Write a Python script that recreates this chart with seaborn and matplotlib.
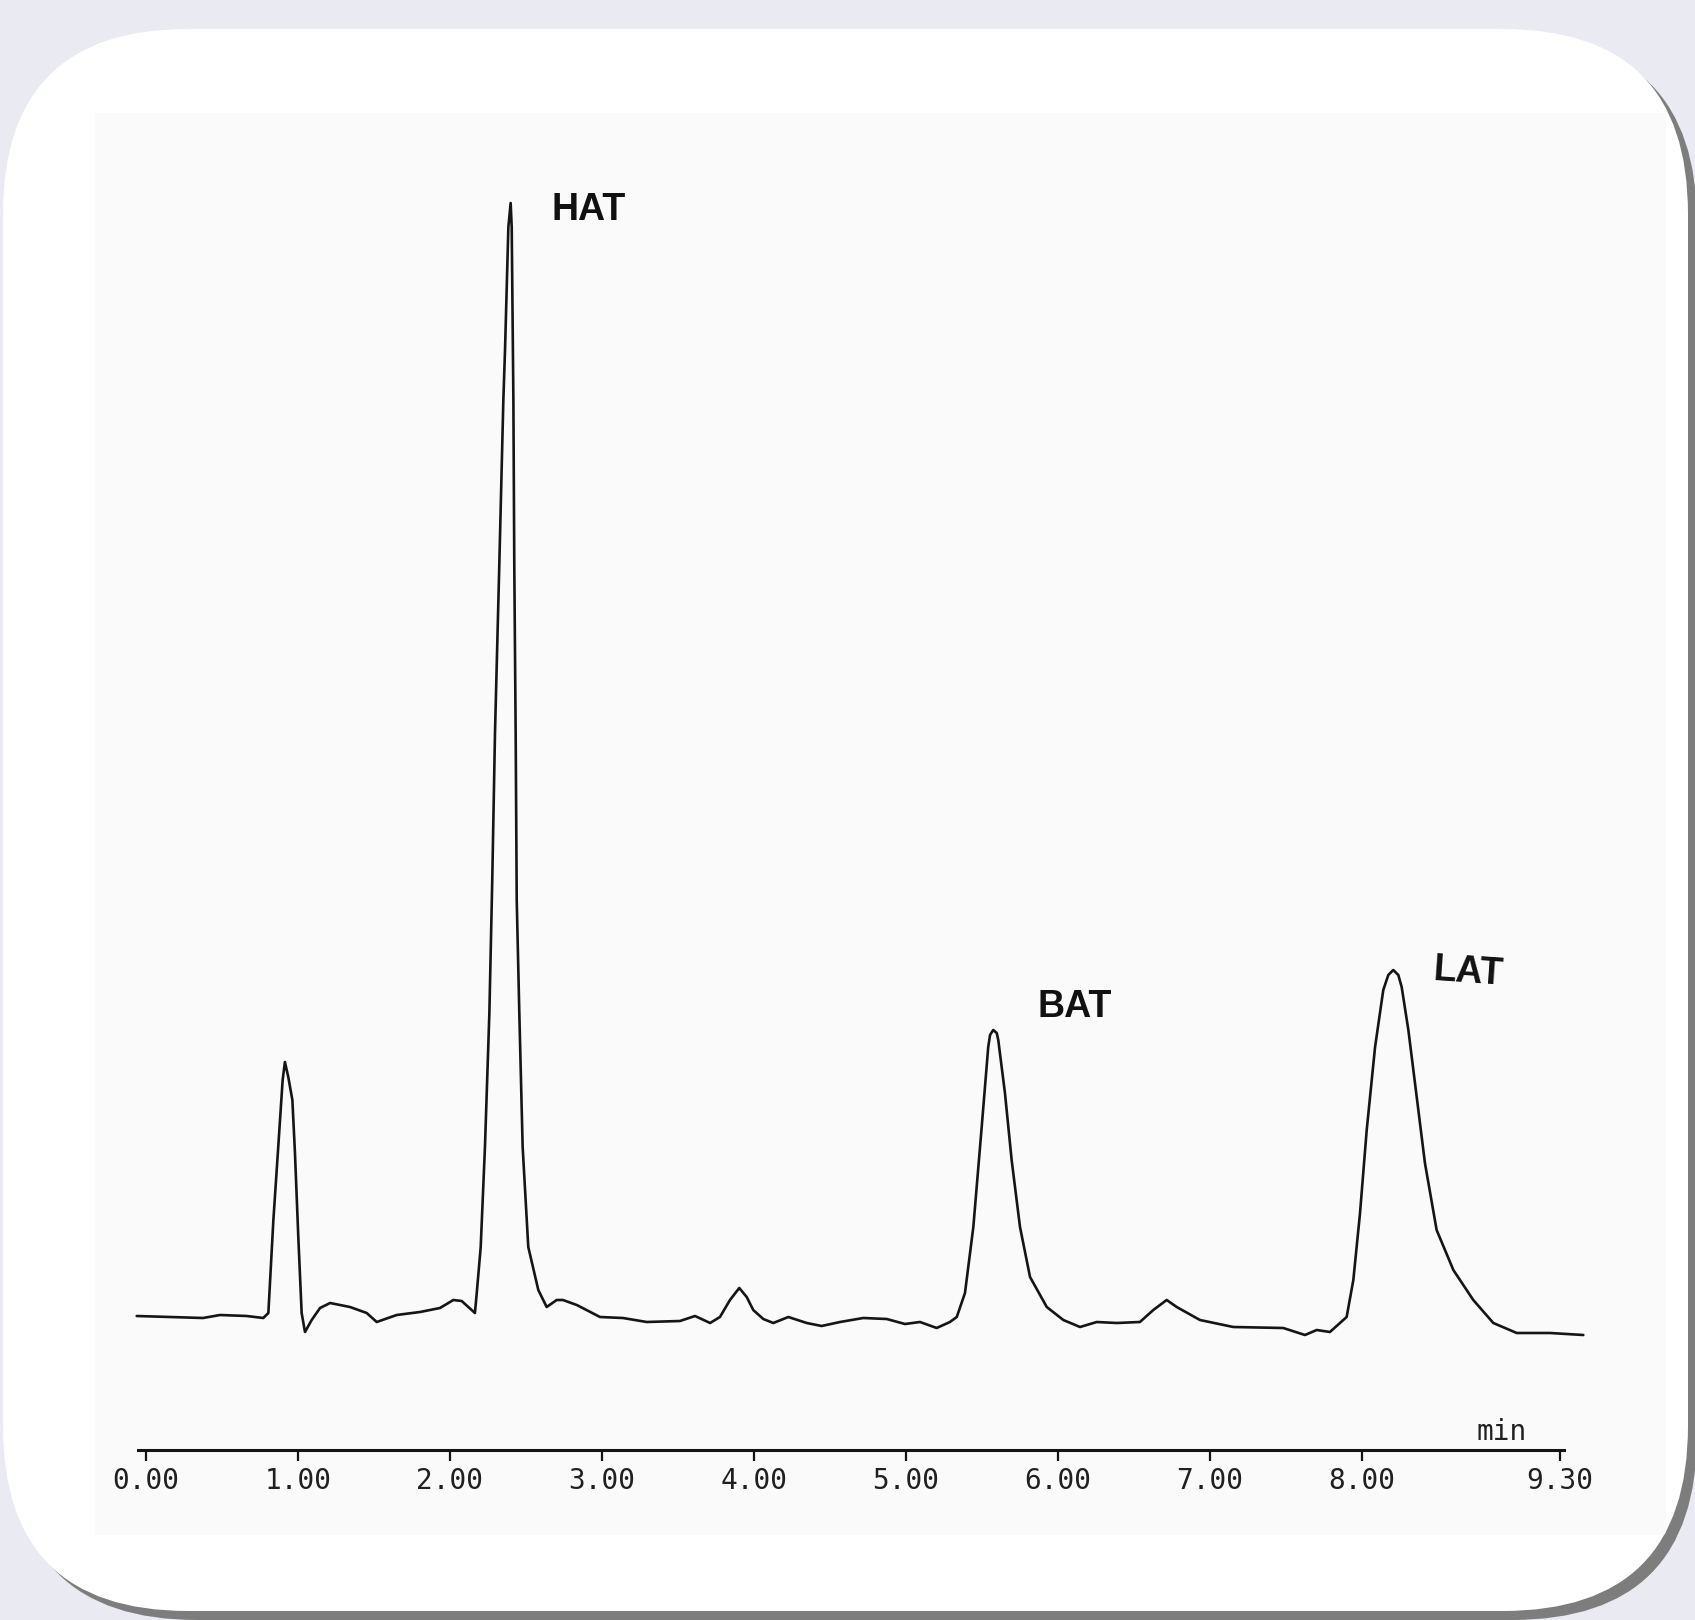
import numpy as np
import pandas as pd
import matplotlib
matplotlib.use("Agg")
import matplotlib.pyplot as plt
from matplotlib.patches import FancyBboxPatch, Rectangle
import seaborn as sns

# ---------------- data ----------------
time_min = [-0.061, 0.158, 0.375, 0.487, 0.662, 0.772, 0.805, 0.838, 0.870, 0.899,
            0.914, 0.936, 0.963, 0.980, 1.002, 1.024, 1.046, 1.090, 1.145, 1.211,
            1.342, 1.452, 1.518, 1.649, 1.803, 1.934, 2.022, 2.077, 2.164, 2.176,
            2.202, 2.230, 2.259, 2.278, 2.296, 2.324, 2.351, 2.362, 2.384, 2.399,
            2.406, 2.417, 2.423, 2.432, 2.439, 2.456, 2.478, 2.515, 2.581, 2.636,
            2.702, 2.743, 2.834, 2.987, 3.138,
            3.294, 3.513, 3.612, 3.711, 3.776, 3.842, 3.903, 3.952, 3.995, 4.061,
            4.127, 4.226, 4.347, 4.445, 4.566, 4.719, 4.873, 4.993, 5.092, 5.202,
            5.289, 5.334, 5.388, 5.443, 5.498, 5.541, 5.553, 5.574, 5.597, 5.607,
            5.651, 5.695,
            5.750, 5.816, 5.926, 6.035, 6.145, 6.255, 6.386, 6.539, 6.627, 6.715,
            6.781, 6.934, 7.153, 7.482, 7.625, 7.702, 7.789, 7.899, 7.943, 7.987,
            8.031, 8.086, 8.140, 8.173, 8.206, 8.239, 8.261, 8.305, 8.360, 8.414,
            8.491, 8.601,
            8.732, 8.864, 9.018, 9.237, 9.456]
signal = [0.4, 0.3, 0.2, 0.5, 0.4, 0.2, 0.7, 10.0, 17.3, 24.0,
          25.8, 24.3, 22.0, 16.7, 8.3, 0.7, -1.2, 0.0, 1.2, 1.7,
          1.3, 0.7, -0.2, 0.5, 0.8, 1.2, 2.0, 1.9, 0.7, 2.7,
          7.3, 17.3, 30.7, 44.0, 58.7, 75.3, 92.0, 97.0, 109.3, 111.7,
          109.3, 92.0, 75.3, 58.7, 42.0, 30.7, 17.3, 7.3, 3.0, 1.3,
          2.0, 2.0, 1.5, 0.3, 0.2,
          -0.2, -0.1, 0.4, -0.3, 0.3, 2.0, 3.2, 2.3, 1.0, 0.1,
          -0.3, 0.3, -0.3, -0.6, -0.2, 0.2, 0.1, -0.4, -0.2, -0.8,
          -0.2, 0.3, 2.7, 9.3, 19.3, 27.3, 28.5, 29.0, 28.7, 28.0,
          22.7, 16.0,
          9.3, 4.3, 1.3, 0.0, -0.7, -0.2, -0.3, -0.2, 1.0, 2.0,
          1.3, 0.0, -0.7, -0.8, -1.5, -1.0, -1.2, 0.3, 4.0, 10.7,
          19.0, 27.3, 33.0, 34.5, 35.0, 34.5, 33.3, 29.0, 22.3, 15.7,
          9.0, 5.0,
          2.0, -0.3, -1.3, -1.3, -1.5]

tick_values = [0, 1, 2, 3, 4, 5, 6, 7, 8, 9.3]
tick_labels = ["0.00", "1.00", "2.00", "3.00", "4.00", "5.00", "6.00", "7.00", "8.00", "9.30"]
axis_unit = "min"

peak_names = ["HAT", "BAT", "LAT"]
peak_label_x = [2.914, 6.112, 8.697]
peak_label_y = [111.0, 31.3, 34.8]
peak_label_rot = [0, 0, -4]

df = pd.DataFrame({"time": time_min, "signal": signal})

# ---------------- figure ----------------
sns.set_theme(style="white")
plt.rcParams["font.family"] = ["DejaVu Sans"]

W, H = 1695, 1620
fig = plt.figure(figsize=(W / 100, H / 100), dpi=100)
fig.patch.set_facecolor("#EAEAF2")

# background layer in pixel coordinates
bg = fig.add_axes([0, 0, 1, 1], zorder=0)
bg.set_xlim(0, W)
bg.set_ylim(H, 0)
bg.axis("off")

shadow = FancyBboxPatch((12, 38), 1688 - 3, 1611 - 29,
                        boxstyle="round,pad=0,rounding_size=185",
                        facecolor="#7d7d7d", edgecolor="none")
bg.add_patch(shadow)
card = FancyBboxPatch((3, 29), 1688 - 3, 1611 - 29,
                      boxstyle="round,pad=0,rounding_size=185",
                      facecolor="white", edgecolor="none")
bg.add_patch(card)
scan = Rectangle((95, 113), 1666 - 95, 1535 - 113, facecolor="#fafafa",
                 edgecolor="none")
bg.add_patch(scan)
scan.set_clip_path(card)

# main chart axes: x pixel = 146 + 152 * t ; y pixel = 1320 - 10 * s
left_px, right_px, bottom_px, top_px = 138, 1564, 1450, 100
ax = fig.add_axes([left_px / W, (H - bottom_px) / H,
                   (right_px - left_px) / W, (bottom_px - top_px) / H], zorder=2)
ax.set_facecolor("none")
ax.set_xlim((left_px - 146) / 152, (right_px - 146) / 152)
ax.set_ylim((1320 - bottom_px) / 10, (1320 - top_px) / 10)

sns.lineplot(data=df, x="time", y="signal", ax=ax, color="#151515",
             linewidth=1.9, sort=False, estimator=None)
for ln in ax.lines:
    ln.set_clip_on(False)
    ln.set_solid_joinstyle("round")

for sp in ["left", "top", "right"]:
    ax.spines[sp].set_visible(False)
ax.spines["bottom"].set_linewidth(2.2)
ax.spines["bottom"].set_color("#151515")
ax.set_yticks([])
ax.set_xticks(tick_values)
ax.set_xticklabels(tick_labels, family="DejaVu Sans Mono", fontsize=20,
                   color="#202020")
ax.tick_params(axis="x", which="major", direction="out", length=8, width=1.6,
               color="#151515", pad=4, bottom=True)
ax.set_xticks([0], minor=True)
ax.tick_params(axis="x", which="minor", direction="in", length=8, width=1.6,
               color="#151515", bottom=True)
ax.set_xlabel("")
ax.set_ylabel("")

ax.text((1502 - 146) / 152, (1320 - 1446) / 10, axis_unit,
        family="DejaVu Sans Mono", fontsize=20, color="#202020",
        ha="center", va="bottom")

for name, tx, ty, rot in zip(peak_names, peak_label_x, peak_label_y, peak_label_rot):
    ax.text(tx, ty, name, family="Liberation Sans", fontweight="bold",
            fontsize=27, color="#111111", ha="center", va="center", rotation=rot)

fig.savefig("out.png", dpi=100, facecolor=fig.get_facecolor())
